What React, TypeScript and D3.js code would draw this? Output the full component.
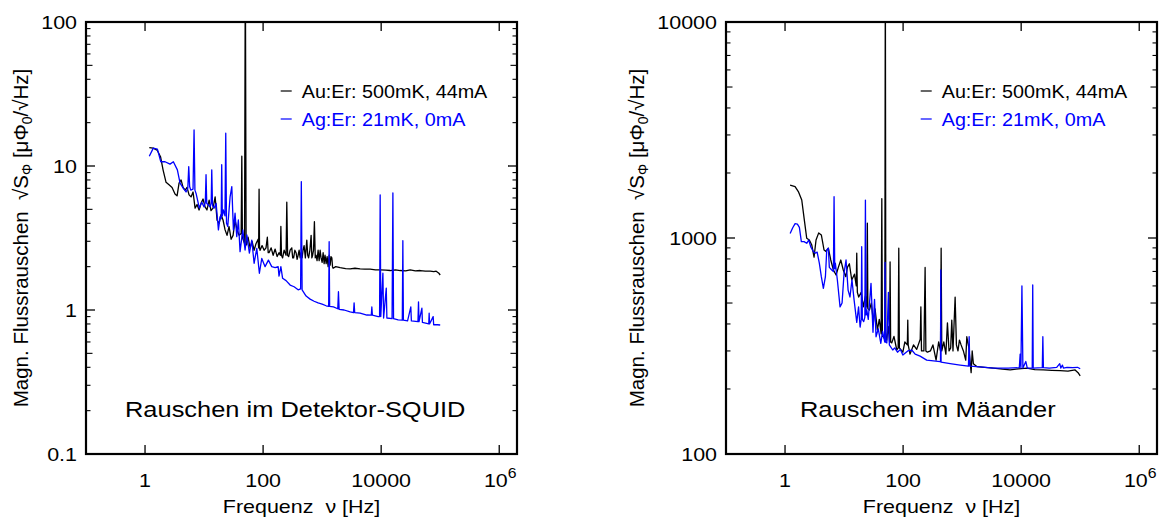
import React from 'react';
import * as d3 from 'd3';

// ---------- data ----------
// [frequency Hz, flux noise]
const leftAuEr: [number, number][] = [
  [1.18,13.4],[1.37,13.3],[1.6,12.9],[1.83,11.6],[2.02,9.4],[2.27,7.7],[2.55,7.4],[2.87,7.1],[3.22,6.4],[3.49,6.2],[3.77,7.6],[4.08,8.0],[4.41,7.1],[4.77,6.8],[5.15,7.1],[5.57,6.3],[6.02,6.1],[6.51,6.6],[7.04,5.1],[7.61,5.4],[8.23,4.95],[8.89,5.5],[9.61,5.9],[10.4,5.2],[11.2,4.95],[12.2,5.8],[13.1,4.9],[14.2,5.1],[15.4,6.1],[16.6,4.2],[18.0,4.0],[19.4,4.6],[21.0,4.2],[22.7,3.6],[24.5,3.3],[26.5,3.8],[28.7,3.1],[31,3.3],[33.5,4.2],[36.2,3.6],[39.2,3.3],[42.5,3.4],[43.6,11.7],[44.6,3.2],[45.8,3.1],[48.5,2.9],[50,300],[51.5,2.9],[52.5,2.83],[55.7,3.2],[60.2,2.7],[65.1,3.0],[70.4,2.6],[76.1,2.9],[82.3,3.1],[84,2.7],[85.5,6.9],[87,2.7],[88.9,2.6],[96.1,2.8],[104,2.6],[112,2.7],[118,3.2],[122,2.5],[126,2.5],[137,2.7],[148,2.4],[160,2.65],[173,2.35],[186,2.5],[196,2.4],[200,3.8],[205,2.4],[214,2.3],[227,2.6],[245,2.4],[252,5.6],[260,2.4],[271,2.35],[287,2.6],[306,2.7],[317,2.3],[329,2.3],[345,2.6],[362,2.5],[377,2.25],[392,2.4],[408,2.6],[424,2.3],[440,2.5],[458,2.3],[475,2.6],[495,2.8],[520,2.3],[550,3.06],[570,2.4],[590,2.3],[620,2.6],[651,3.3],[670,2.3],[690,2.4],[715,2.6],[740,4.1],[765,2.3],[791,2.4],[820,2.2],[855,2.6],[890,2.2],[925,2.6],[960,2.3],[1000,2.14],[1040,2.5],[1081,2.1],[1120,2.4],[1169,2.1],[1215,2.35],[1264,2.0],[1315,2.4],[1367,2.05],[1410,2.35],[1460,2.3],[1500,2.0],[1535,1.95],[1700,2.0],[2018,1.97],[2500,1.94],[2985,1.93],[3600,1.95],[4400,1.93],[5300,1.92],[6510,1.92],[8000,1.9],[9620,1.9],[12000,1.89],[14200,1.88],[17500,1.9],[21000,1.88],[26000,1.87],[31000,1.9],[38000,1.87],[45800,1.88],[56000,1.86],[67700,1.86],[78000,1.85],[85500,1.86],[95000,1.8],[100000,1.75]
];

const leftAgEr: [number, number][] = [
  [1.18,11.7],[1.38,13.3],[1.62,13.1],[1.85,10.7],[2.18,10.7],[2.65,10.3],[3.02,10.7],[3.53,9.4],[3.92,7.6],[4.46,7.0],[4.95,6.6],[5.3,7.0],[5.5,9.9],[5.7,7.2],[5.95,6.8],[6.5,6.9],[6.77,17.8],[7.0,6.8],[7.32,6.45],[8.32,5.1],[9.14,5.6],[10,5.2],[10.5,5.6],[10.8,8.7],[11.1,5.5],[11.7,5.4],[12.6,5.2],[13.2,5.5],[13.5,9.4],[13.9,5.3],[14.8,5.1],[16.0,5.5],[17.5,3.6],[18.7,4.45],[19.5,4.3],[19.9,10.2],[20.4,4.5],[21.2,4.95],[22.6,4.5],[23.3,16.9],[24.0,4.0],[25.2,3.8],[27.6,6.1],[29.5,7.2],[31.4,3.6],[33.5,4.7],[35.8,3.23],[38.1,4.22],[40.7,2.54],[45.3,3.6],[49.5,2.61],[53,3.32],[58.6,2.48],[64.3,3.06],[70.4,2.11],[78.2,2.68],[86.5,1.8],[95,2.28],[108,2.0],[123,2.22],[140,2.0],[160,1.97],[180,2.0],[186,1.72],[200,2.0],[214,1.66],[245,1.6],[287,1.49],[335,1.45],[392,1.38],[432,1.4],[444,7.8],[458,1.38],[535,1.25],[626,1.19],[731,1.15],[855,1.12],[1000,1.1],[1169,1.07],[1290,1.06],[1315,2.98],[1340,1.06],[1556,1.05],[1840,1.02],[1890,1.34],[1940,1.01],[2360,1.0],[2985,0.97],[3400,0.96],[3480,1.12],[3560,0.96],[4400,0.95],[5720,0.923],[6800,0.92],[6950,1.05],[7100,0.92],[8900,0.9],[9400,0.9],[9620,6.3],[9850,0.9],[10700,1.8],[11000,0.88],[12200,1.42],[12500,0.88],[15300,0.87],[15800,6.5],[16200,0.87],[19400,0.853],[22800,0.85],[23300,3.03],[23800,0.85],[28000,0.84],[31800,1.05],[32500,0.84],[42000,0.83],[42900,1.14],[43800,0.83],[49000,1.03],[50000,0.82],[64000,0.8],[65000,0.95],[66000,0.8],[76000,0.9],[77500,0.79],[90000,0.79],[100000,0.787]
];

const rightAuEr: [number, number][] = [
  [1.22,1759],[1.48,1730],[1.68,1640],[1.92,1499],[2.1,1240],[2.33,997],[2.58,979],[2.84,928],[3.1,815],[3.35,979],[3.72,1056],[4.12,1033],[4.58,880],[4.95,866],[5.42,897],[5.95,791],[6.6,711],[7.32,674],[8.0,731],[8.8,791],[9.7,711],[10.7,662],[11.4,731],[12.3,760],[13.5,639],[15,680],[16.1,600],[16.4,851],[16.8,560],[17.7,533],[19.5,560],[21.2,480],[23,540],[24.3,480],[24.8,1170],[25.3,470],[26.9,464],[29,500],[31.4,405],[33.5,470],[36.7,375],[39.5,420],[42.5,360],[43.6,1520],[44.6,350],[46.4,349],[49,340],[50,20000],[51,340],[52.9,337],[56,390],[59,330],[60.2,775],[61.5,330],[64.3,327],[70,350],[78.2,303],[82.5,310],[84.5,897],[86.5,310],[99,296],[107,330],[118,320],[120,417],[122,320],[131,290],[150,320],[170,305],[195,340],[200,480],[205,300],[225,300],[236,731],[243,300],[258,296],[290,300],[320,320],[362,272],[400,330],[430,300],[441,897],[452,300],[490,330],[530,290],[564,405],[600,300],[640,310],[668,417],[700,300],[761,533],[800,320],[850,300],[900,337],[960,320],[1050,300],[1150,272],[1200,349],[1300,310],[1420,238],[1480,300],[1550,262],[1770,254],[2400,252],[3400,250],[4800,247],[6510,245],[9000,248],[12500,250],[17000,246],[23900,245],[33000,244],[45800,243],[62000,242],[82000,245],[92000,238],[100000,230]
];

const rightAgEr: [number, number][] = [
  [1.22,1048],[1.35,1115],[1.48,1165],[1.62,1160],[1.75,1120],[1.89,962],[2.1,962],[2.33,945],[2.52,979],[2.73,910],[3.02,866],[3.26,851],[3.5,860],[3.81,765],[4.12,662],[4.46,585],[4.83,662],[5.09,880],[5.42,897],[5.63,731],[6.19,711],[6.6,700],[6.77,1552],[6.95,720],[7.12,765],[7.7,639],[8.55,480],[9.25,500],[10,688],[10.8,791],[11.7,574],[12.6,533],[13.6,640],[14.8,516],[16.4,407],[17.6,480],[18.7,387],[19.5,420],[19.9,912],[20.4,420],[21.5,410],[22.5,430],[23,1499],[23.6,440],[24.3,464],[25.7,420],[28.6,617],[30.9,366],[32.8,520],[34.8,349],[38,380],[41.9,325],[45,370],[48.8,330],[49.5,770],[50.3,330],[53,327],[56.4,560],[58.5,320],[66.8,303],[72,310],[80.4,296],[90,305],[99,287],[120,300],[140,303],[160,290],[194,284],[251,272],[327,270],[424,268],[430,268],[435,711],[440,266],[626,262],[925,258],[1270,255],[1280,255],[1315,349],[1350,255],[2018,253],[3400,250],[6000,250],[9300,251],[9620,290],[9900,250],[10300,600],[10700,250],[12000,268],[12700,250],[15400,250],[15700,606],[16000,250],[22800,251],[23300,349],[23800,251],[30000,250],[40000,252],[45000,262],[47000,250],[50000,258],[52000,250],[60000,252],[75000,251],[90000,252],[100000,248]
];

const xDomain: [number, number] = [0.1, 2e6];
const xTickValues = [1, 100, 10000, 1e6];
const xTickLabels = ['1', '100', '10000', '10^6'];
const leftYDomain: [number, number] = [0.1, 100];
const leftYTicks = [0.1, 1, 10, 100];
const leftYTickLabels = ['0.1', '1', '10', '100'];
const rightYDomain: [number, number] = [100, 10000];
const rightYTicks = [100, 1000, 10000];
const rightYTickLabels = ['100', '1000', '10000'];
const legendLabels = ['Au:Er: 500mK, 44mA', 'Ag:Er: 21mK, 0mA'];
const seriesColors = ['#000000', '#0000ff'];
const panelTitles = ['Rauschen im Detektor-SQUID', 'Rauschen im Mäander'];

// ---------- layout ----------
const W = 1162, H = 519;
const PT = 22, PB = 454, PW = 431;
const SX = 1.13;
const FONT = '"Liberation Sans", Arial, Helvetica, sans-serif';

function HText({ x, y, anchor = 'start', size, fill = '#000', children }: any) {
  return (
    <text transform={`translate(${x},${y}) scale(${SX},1)`} textAnchor={anchor}
      fontSize={size} fill={fill} fontFamily={FONT}>{children}</text>
  );
}

function Panel({ x0, yDomain, yTicks, yTickLabels, data, title, titleX, yLabelX, clipId }: any) {
  const x = d3.scaleLog().domain(xDomain).range([x0, x0 + PW]);
  const y = d3.scaleLog().domain(yDomain).range([PB, PT]);
  const line = d3.line<[number, number]>().x(d => x(d[0])).y(d => y(d[1]));
  const x1 = x0 + PW;

  const minor: { v: number; len: number }[] = [];
  for (let d = yDomain[0]; d < yDomain[1] * 0.99; d *= 10) {
    for (let k = 2; k <= 9; k++) minor.push({ v: d * k, len: k === 5 ? 6.5 : 4.5 });
  }

  return (
    <g>
      <defs>
        <clipPath id={clipId}><rect x={x0} y={PT} width={PW} height={PB - PT} /></clipPath>
      </defs>
      <g clipPath={`url(#${clipId})`}>
        {data.map((s: [number, number][], i: number) => (
          <path key={i} d={line(s) || ''} fill="none" stroke={seriesColors[i]} strokeWidth={1.3} strokeLinejoin="round" />
        ))}
      </g>
      {yTicks.map((v: number, i: number) => (
        <g key={'ym' + i}>
          <line x1={x0} x2={x0 + 9} y1={y(v)} y2={y(v)} stroke="#000" strokeWidth={1.3} />
          <line x1={x1} x2={x1 - 9} y1={y(v)} y2={y(v)} stroke="#000" strokeWidth={1.3} />
        </g>
      ))}
      {minor.map((m, i) => (
        <g key={'yn' + i}>
          <line x1={x0} x2={x0 + m.len} y1={y(m.v)} y2={y(m.v)} stroke="#000" strokeWidth={1.1} />
          <line x1={x1} x2={x1 - m.len} y1={y(m.v)} y2={y(m.v)} stroke="#000" strokeWidth={1.1} />
        </g>
      ))}
      {xTickValues.map((v, i) => (
        <g key={'xt' + i}>
          <line x1={x(v)} x2={x(v)} y1={PB} y2={PB - 9} stroke="#000" strokeWidth={1.3} />
          <line x1={x(v)} x2={x(v)} y1={PT} y2={PT + 9} stroke="#000" strokeWidth={1.3} />
        </g>
      ))}
      <rect x={x0} y={PT} width={PW} height={PB - PT} fill="none" stroke="#000" strokeWidth={2.2} />
      {yTicks.map((v: number, i: number) => (
        <HText key={'yl' + i} x={x0 - 9} y={y(v) + 6.8} anchor="end" size={19}>{yTickLabels[i]}</HText>
      ))}
      {xTickValues.map((v, i) => {
        const lab = xTickLabels[i];
        if (lab.includes('^')) {
          const [b, e] = lab.split('^');
          return (
            <HText key={'xl' + i} x={x(v) + 1} y={487} anchor="middle" size={19}>
              {b}<tspan dy={-9} fontSize={14}>{e}</tspan>
            </HText>
          );
        }
        return <HText key={'xl' + i} x={x(v)} y={487} anchor="middle" size={19}>{lab}</HText>;
      })}
      <HText x={x0 + PW / 2} y={513} anchor="middle" size={19}>{'Frequenz\u00a0\u00a0ν [Hz]'}</HText>
      <text transform={`translate(${yLabelX},${(PT + PB) / 2}) rotate(-90)`} textAnchor="middle"
        fontSize={20.5} fontFamily={FONT} fill="#000">
        {'Magn. Flussrauschen\u00a0\u00a0√S'}
        <tspan dy={4} fontSize={14}>Φ</tspan>
        <tspan dy={-4}>{' [μΦ'}</tspan>
        <tspan dy={4} fontSize={14}>0</tspan>
        <tspan dy={-4}>{'/√Hz]'}</tspan>
      </text>
      {legendLabels.map((l, i) => (
        <g key={'lg' + i}>
          <line x1={x0 + 194.7} x2={x0 + 205.7} y1={91 + i * 28} y2={91 + i * 28} stroke={seriesColors[i]} strokeWidth={1.2} />
          <HText x={x0 + 215.7} y={98 + i * 28} size={17.5} fill={seriesColors[i]}>{l}</HText>
        </g>
      ))}
      <HText x={titleX} y={417} size={22.5}>{title}</HText>
    </g>
  );
}

export default function App() {
  return (
    <svg width={W} height={H} style={{ position: 'absolute', left: 0, top: 0, background: '#fff' }}>
      <rect x={0} y={0} width={W} height={H} fill="#fff" />
      <Panel x0={86} yDomain={leftYDomain} yTicks={leftYTicks} yTickLabels={leftYTickLabels}
        data={[leftAuEr, leftAgEr]} title={panelTitles[0]} titleX={125} yLabelX={28} clipId="clipL" />
      <Panel x0={726} yDomain={rightYDomain} yTicks={rightYTicks} yTickLabels={rightYTickLabels}
        data={[rightAuEr, rightAgEr]} title={panelTitles[1]} titleX={800} yLabelX={644} clipId="clipR" />
    </svg>
  );
}
